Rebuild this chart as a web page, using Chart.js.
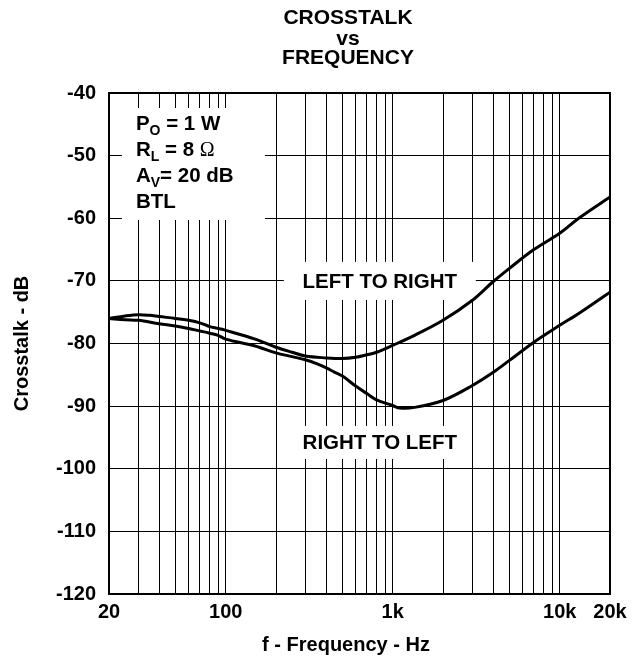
<!DOCTYPE html>
<html lang="en">
<head>
  <meta charset="UTF-8" />
  <title>Crosstalk vs Frequency</title>
  <script src="https://cdn.jsdelivr.net/npm/chart.js"></script>
  <style>
    body { margin: 0; background: #fff; }
    canvas { display: block; }
  </style>
</head>
<body>
  <canvas id="grafico" width="642" height="657"></canvas>

  <script>
    const FONT = "'Liberation Sans', Arial, sans-serif";

    // vertical grid lines (Hz) and the ones that carry a label
    const gridFreqs = [20, 30, 40, 50, 60, 70, 80, 90,
                       100, 200, 300, 400, 500, 600, 700, 800, 900,
                       1000, 2000, 3000, 4000, 5000, 6000, 7000, 8000, 9000,
                       10000, 20000];
    const labelFreqs = [20, 100, 1000, 10000, 20000];
    const labelTexts = ['20', '100', '1k', '10k', '20k'];

    // LEFT TO RIGHT curve
    const ltrFreq = [20, 25, 30, 35, 40, 50, 60, 70, 80, 90, 100, 150, 200, 250, 300, 400, 500,
                     600, 700, 800, 1000, 1350, 2000, 3000, 4000, 5000, 7000, 10000, 13000, 20000];
    const ltrDb = [-76.0, -75.6, -75.4, -75.5, -75.7, -76.0, -76.3, -76.7, -77.3, -77.6, -77.9,
                   -79.3, -80.6, -81.4, -82.0, -82.3, -82.4, -82.2, -81.8, -81.4, -80.3, -78.7,
                   -76.3, -73.1, -70.1, -68.0, -65.0, -62.4, -60.0, -56.6];

    // RIGHT TO LEFT curve
    const rtlFreq = [20, 25, 30, 40, 50, 60, 70, 80, 90, 100, 150, 200, 250, 300, 350, 400, 450,
                     500, 600, 700, 800, 1000, 1100, 1350, 2000, 3000, 4000, 5000, 7000, 10000,
                     13000, 20000];
    const rtlDb = [-76.0, -76.2, -76.3, -76.85, -77.2, -77.6, -78.0, -78.35, -78.7, -79.3, -80.4,
                   -81.5, -82.1, -82.6, -83.2, -83.9, -84.6, -85.2, -86.8, -88.0, -89.0, -89.9,
                   -90.3, -90.2, -89.1, -86.7, -84.6, -82.7, -79.8, -77.1, -75.2, -71.8];

    const titolo = ['CROSSTALK', 'vs', 'FREQUENCY'];
    const titoloX = 'f - Frequency - Hz';

    const punti = (f, d) => f.map((v, i) => ({ x: v, y: d[i] }));

    // text drawn inside the plot, with a white patch behind it
    function testoRicco(ctx, parti, x, y) {
      let cx = x;
      parti.forEach(p => {
        if (p.sub) {
          ctx.font = "bold 14px " + FONT;
          ctx.fillText(p.t, cx, y + 5);
        } else if (p.serif) {
          ctx.font = "20px 'Liberation Serif', 'Times New Roman', serif";
          ctx.fillText(p.t, cx, y);
        } else {
          ctx.font = "bold 20.5px " + FONT;
          ctx.fillText(p.t, cx, y);
        }
        cx += ctx.measureText(p.t).width;
      });
    }

    const annotazioni = {
      id: 'annotazioni',
      beforeDatasetsDraw(chart) {
        const { ctx, scales: { x, y } } = chart;
        ctx.save();

        // condizioni di prova
        const ax = x.getPixelForValue(29), ay = y.getPixelForValue(-45.9);
        ctx.fillStyle = '#fff';
        ctx.fillRect(ax - 14, ay - 22, 143, 112);
        ctx.fillStyle = '#000';
        ctx.textBaseline = 'alphabetic';
        ctx.textAlign = 'left';
        const righe = [
          [{ t: 'P' }, { t: 'O', sub: true }, { t: ' = 1 W' }],
          [{ t: 'R' }, { t: 'L', sub: true }, { t: ' = 8 ' }, { t: 'Ω', serif: true }],
          [{ t: 'A' }, { t: 'V', sub: true }, { t: '= 20 dB' }],
          [{ t: 'BTL' }]
        ];
        righe.forEach((r, i) => testoRicco(ctx, r, ax, ay + i * 26));

        // etichette delle curve
        ctx.font = "bold 20.5px " + FONT;
        ctx.textAlign = 'center';
        ctx.textBaseline = 'middle';
        [['LEFT TO RIGHT', 837, -70, 96, 19], ['RIGHT TO LEFT', 837, -95.8, 90, 16.5]].forEach(([t, f, db, hw, hh]) => {
          const px = x.getPixelForValue(f), py = y.getPixelForValue(db);
          ctx.fillStyle = '#fff';
          ctx.fillRect(px - hw, py - hh, hw * 2, hh * 2);
          ctx.fillStyle = '#000';
          ctx.fillText(t, px, py + 1);
        });
        ctx.restore();
      },
      afterDatasetsDraw(chart) {
        const { ctx, chartArea: a } = chart;
        ctx.save();
        ctx.strokeStyle = '#000';
        ctx.lineWidth = 2;
        ctx.strokeRect(a.left, a.top, a.right - a.left, a.bottom - a.top);
        ctx.restore();
      },
      afterDraw(chart) {
        // titolo e titolo asse x, centrati come nell'originale
        const { ctx } = chart;
        ctx.save();
        ctx.fillStyle = '#000';
        ctx.textAlign = 'center';
        ctx.textBaseline = 'alphabetic';
        ctx.font = "bold 21px " + FONT;
        [23.5, 45, 64].forEach((b, i) => ctx.fillText(titolo[i], 348, b));
        ctx.font = "bold 20px " + FONT;
        ctx.fillText(titoloX, 346, 651);
        ctx.restore();
      }
    };

    const ctx = document.getElementById('grafico').getContext('2d');
    new Chart(ctx, {
      type: 'line',
      data: {
        datasets: [
          { label: 'LEFT TO RIGHT', data: punti(ltrFreq, ltrDb), borderColor: '#000', borderWidth: 3,
            pointRadius: 0, tension: 0.35, fill: false },
          { label: 'RIGHT TO LEFT', data: punti(rtlFreq, rtlDb), borderColor: '#000', borderWidth: 3,
            pointRadius: 0, tension: 0.35, fill: false }
        ]
      },
      options: {
        responsive: false,
        animation: false,
        layout: { padding: { left: 0, right: 32, top: 93, bottom: 0 } },
        plugins: {
          legend: { display: false },
          tooltip: { enabled: false },
          title: { display: false }
        },
        scales: {
          x: {
            type: 'logarithmic',
            min: 20,
            max: 20000,
            afterBuildTicks: s => { s.ticks = gridFreqs.map(v => ({ value: v })); },
            afterFit: s => { s.height = 63; },
            grid: { color: '#000', lineWidth: 1, drawTicks: false },
            border: { display: false },
            ticks: {
              autoSkip: false,
              maxRotation: 0,
              padding: 6,
              color: '#000',
              font: { family: FONT, size: 20, weight: 'bold' },
              callback: v => {
                const i = labelFreqs.indexOf(v);
                return i >= 0 ? labelTexts[i] : '';
              }
            }
          },
          y: {
            min: -120,
            max: -40,
            afterFit: s => { s.width = 109; },
            grid: { color: '#000', lineWidth: 1, drawTicks: false },
            border: { display: false },
            ticks: {
              stepSize: 10,
              padding: 13,
              color: '#000',
              font: { family: FONT, size: 20, weight: 'bold' }
            },
            title: {
              display: true,
              text: 'Crosstalk - dB',
              color: '#000',
              font: { family: FONT, size: 20, weight: 'bold' },
              padding: { top: 10, bottom: 0 }
            }
          }
        }
      },
      plugins: [annotazioni]
    });
  </script>
</body>
</html>
